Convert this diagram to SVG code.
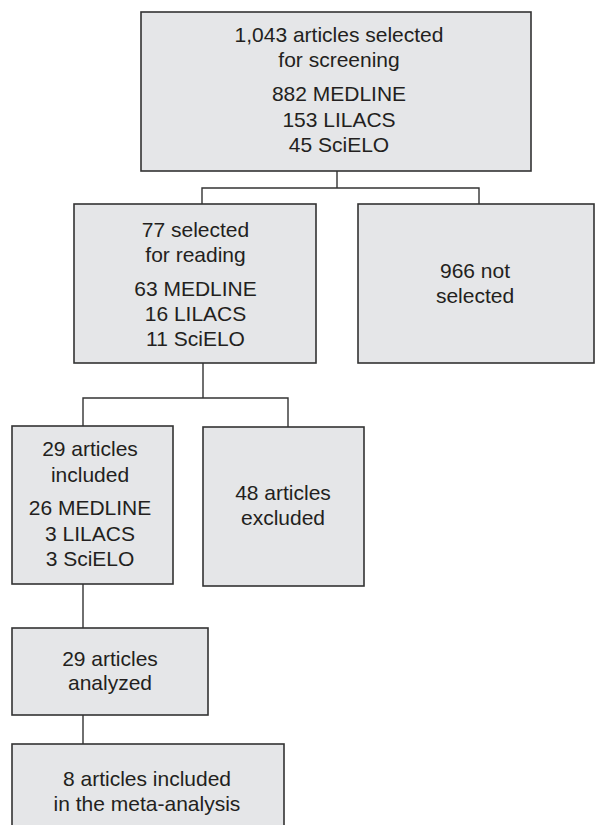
<svg xmlns="http://www.w3.org/2000/svg" width="595" height="825" viewBox="0 0 595 825">
<style>
.box{fill:#e5e6e8;stroke:#333;stroke-width:1.6}
.t{font-family:"Liberation Sans",Arial,sans-serif;font-size:21px;fill:#231f20;text-anchor:middle}
.c{fill:none;stroke:#333;stroke-width:1.4}
</style>
<rect width="595" height="825" fill="#fff"/>
<g id="connectors">
<path class="c" d="M337,171 V188 M202,204 V188 H479 V204"/>
<path class="c" d="M203,363 V398 M83,426 V398 H288 V427"/>
<path class="c" d="M83,584 V628"/>
<path class="c" d="M83,715 V744"/>
</g>
<g id="n1">
<rect class="box" x="141" y="12" width="390" height="159"/>
<text class="t" x="339" y="42">1,043 articles selected</text>
<text class="t" x="339" y="67">for screening</text>
<text class="t" x="339" y="101">882 MEDLINE</text>
<text class="t" x="339" y="126.5">153 LILACS</text>
<text class="t" x="339" y="151.5">45 SciELO</text>
</g>
<g id="n2">
<rect class="box" x="74" y="204" width="242" height="159"/>
<text class="t" x="195.5" y="236.5">77 selected</text>
<text class="t" x="195.5" y="261.5">for reading</text>
<text class="t" x="195.5" y="295.5">63 MEDLINE</text>
<text class="t" x="195.5" y="320.5">16 LILACS</text>
<text class="t" x="195.5" y="345.5">11 SciELO</text>
</g>
<g id="n3">
<rect class="box" x="358" y="204" width="236" height="159"/>
<text class="t" x="475" y="277.5">966 not</text>
<text class="t" x="475" y="303">selected</text>
</g>
<g id="n4">
<rect class="box" x="12" y="426" width="161" height="158"/>
<text class="t" x="90" y="455.5">29 articles</text>
<text class="t" x="90" y="481.5">included</text>
<text class="t" x="90" y="515">26 MEDLINE</text>
<text class="t" x="90" y="540.5">3 LILACS</text>
<text class="t" x="90" y="566">3 SciELO</text>
</g>
<g id="n5">
<rect class="box" x="203" y="427" width="161" height="159"/>
<text class="t" x="283" y="500">48 articles</text>
<text class="t" x="283" y="525">excluded</text>
</g>
<g id="n6">
<rect class="box" x="12" y="628" width="196" height="87"/>
<text class="t" x="110" y="666">29 articles</text>
<text class="t" x="110" y="690">analyzed</text>
</g>
<g id="n7">
<rect class="box" x="12" y="744" width="272" height="90"/>
<text class="t" x="147" y="786">8 articles included</text>
<text class="t" x="147" y="811">in the meta-analysis</text>
</g>
</svg>
